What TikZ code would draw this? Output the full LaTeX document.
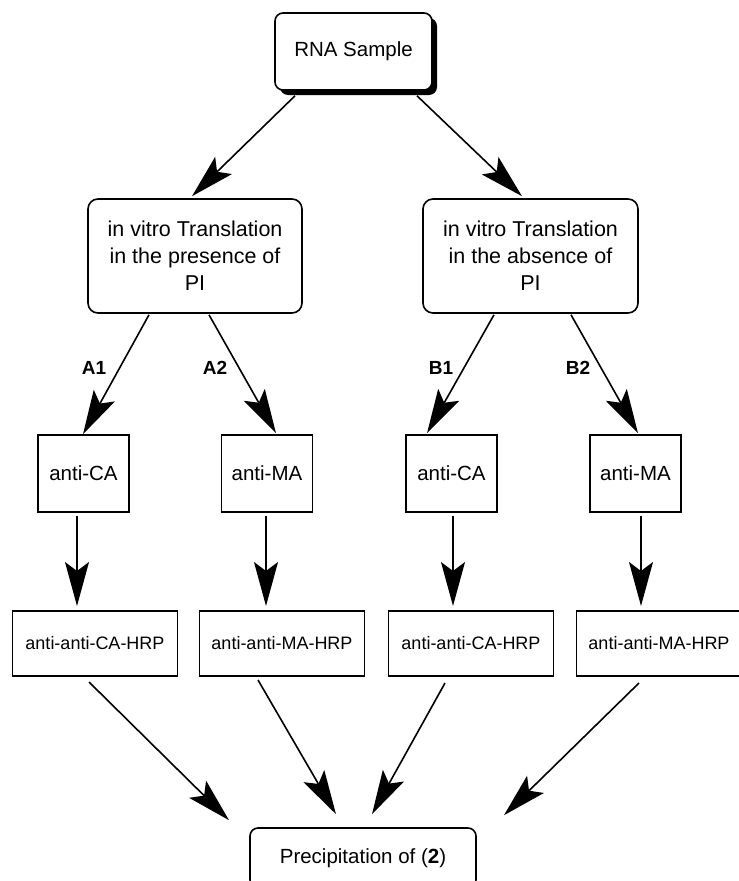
\documentclass[tikz,border=0pt]{standalone}
\usepackage{fontspec}
\setmainfont{Liberation Sans}
\usetikzlibrary{arrows.meta,positioning,shadows}

\begin{document}
\begin{tikzpicture}[x=1pt, y=-1pt, line width=1.6pt, >={Stealth[length=44pt,width=24pt,inset=9pt]},
  box/.style={draw,align=center,inner sep=0pt,font=\fontsize{20.5}{27}\selectfont},
  rbox/.style={box,rounded corners=10pt},
  ab/.style={box,minimum width=91pt,minimum height=77pt},
  hrp/.style={box,outer sep=0pt,minimum width=165pt,minimum height=65pt,font=\fontsize{18}{22}\selectfont},
  tag/.style={font=\fontsize{19}{22}\selectfont\bfseries}]
\useasboundingbox (0,0) rectangle (739,881);
\node[rbox, rounded corners=8pt, minimum width=157pt, minimum height=77pt,
  drop shadow={shadow xshift=5pt, shadow yshift=-5pt, fill=black, opacity=1}, fill=white] (rna) at (353.5,51.5) {RNA Sample};
\node[rbox, minimum width=214pt, minimum height=114pt, font=\fontsize{21.5}{27}\selectfont] (pres) at (195,256) {in vitro Translation\\in the presence of\\PI};
\node[rbox, minimum width=215pt, minimum height=114pt, font=\fontsize{21.5}{27}\selectfont] (abs) at (530.5,256) {in vitro Translation\\in the absence of\\PI};
\draw[->] ([shift={(-58.5,5)}]rna.south) -- ([shift={(-3,-2)}]pres.north);
\draw[->] ([shift={(63.5,5)}]rna.south) -- ([shift={(-8.5,-2)}]abs.north);
% antibody boxes
\node[ab] (ca1) at (83.5,473.5) {anti-CA};
\node[ab] (ma1) at (267,473.5) {anti-MA};
\node[ab] (ca2) at (451.5,473.5) {anti-CA};
\node[ab] (ma2) at (635.5,473.5) {anti-MA};
\draw[->] ([shift={(-46,1)}]pres.south) -- ([shift={(-0.5,0)}]ca1.north);
\draw[->] ([shift={(14,1)}]pres.south) -- ([shift={(9,-1)}]ma1.north);
\draw[->] ([shift={(-36.5,1)}]abs.south) -- ([shift={(-24.5,-1)}]ca2.north);
\draw[->] ([shift={(40.5,1)}]abs.south) -- ([shift={(2.5,-1)}]ma2.north);
\node[tag] (a1) at (94,368) {A1};
\node[tag] (a2) at (215,368) {A2};
\node[tag] (b1) at (441,368) {B1};
\node[tag] (b2) at (578,368) {B2};
% secondary antibodies
\node[hrp] (hrp1) at (95,643.5) {anti-anti-CA-HRP};
\node[hrp, right=22pt of hrp1] (hrp2) {anti-anti-MA-HRP};
\node[hrp, right=24pt of hrp2] (hrp3) {anti-anti-CA-HRP};
\node[hrp, right=23pt of hrp3] (hrp4) {anti-anti-MA-HRP};
\draw[->] ([shift={(-6.5,3)}]ca1.south) -- ([shift={(-18,-5)}]hrp1.north);
\draw[->] ([shift={(-1,3)}]ma1.south) -- ([shift={(-16,-5)}]hrp2.north);
\draw[->] ([shift={(1.5,3)}]ca2.south) -- ([shift={(-18,-5)}]hrp3.north);
\draw[->] ([shift={(5.5,3)}]ma2.south) -- ([shift={(-18,-5)}]hrp4.north);
% everything ends in one box
\node[rbox, rounded corners=8pt, minimum width=226pt, minimum height=60pt] (prec) at (363,858) {Precipitation of (\textbf{2})};
\draw[->] ([shift={(-6,6)}]hrp1.south) -- ([shift={(-134,-7)}]prec.north);
\draw[->] ([shift={(-24,4)}]hrp2.south) -- ([shift={(-27,-13)}]prec.north);
\draw[->] ([shift={(-26,7)}]hrp3.south) -- ([shift={(9,-13)}]prec.north);
\draw[->] ([shift={(-20,7)}]hrp4.south) -- ([shift={(141,-12)}]prec.north);
\end{tikzpicture}
\end{document}
